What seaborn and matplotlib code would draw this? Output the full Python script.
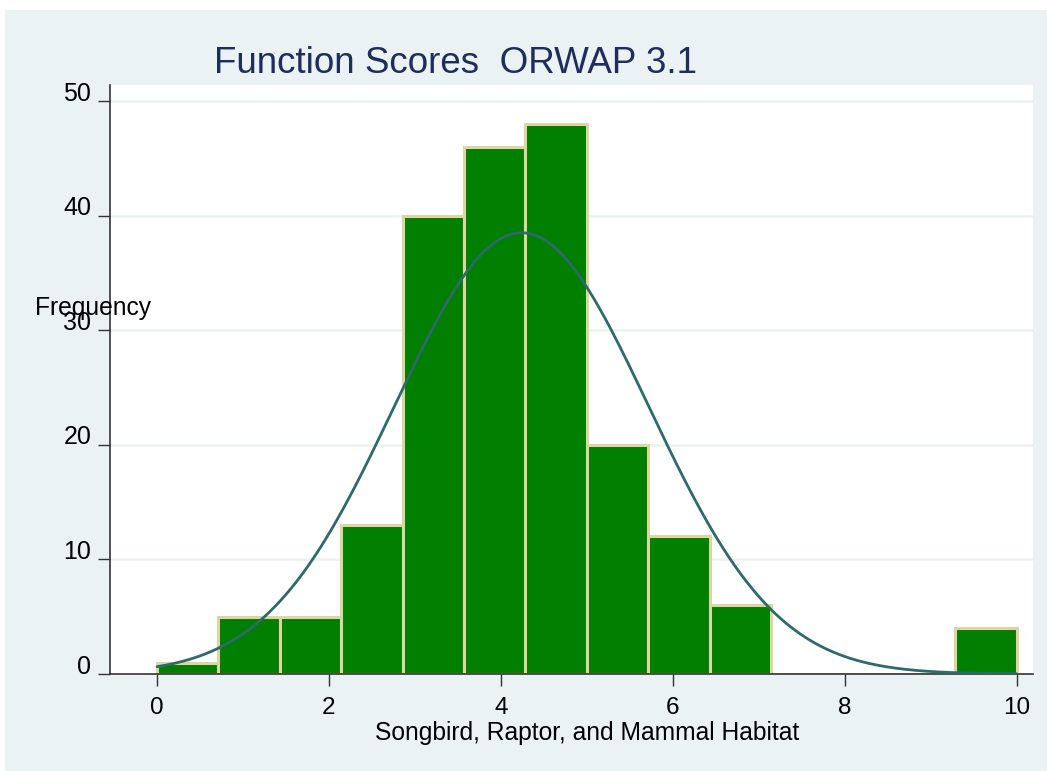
import numpy as np
import pandas as pd
import matplotlib
matplotlib.use("Agg")
import matplotlib.pyplot as plt
import matplotlib.transforms as mtransforms
from matplotlib.patches import Rectangle
import seaborn as sns

# histogram: 14 bins over 0..10, counts
bin_lo = 0.0
bin_hi = 10.0
n_bins = 14
bin_counts = [1, 5, 5, 13, 40, 46, 48, 20, 12, 6, 0, 0, 0, 4]

# fitted normal curve parameters
curve_mean = 4.24
curve_sd = 1.48

y_ticks = [0, 10, 20, 30, 40, 50]
x_ticks = [0, 2, 4, 6, 8, 10]

title = "Function Scores  ORWAP 3.1"
x_label = "Songbird, Raptor, and Mammal Habitat"
y_label = "Frequency"

bg = "#EAF2F3"
bar_green = "#007F00"
bar_edge = "#DDD5A3"
curve_col = "#2E6A6C"
title_col = "#1F2D5C"

sns.set_style("white")
plt.rcParams["font.family"] = ["Liberation Sans", "DejaVu Sans"]
plt.rcParams["text.color"] = "black"
plt.rcParams["xtick.labelcolor"] = "black"
plt.rcParams["ytick.labelcolor"] = "black"

width = (bin_hi - bin_lo) / n_bins
mids = bin_lo + width * (np.arange(n_bins) + 0.5)
df = pd.DataFrame({"score": mids, "count": bin_counts})

fig = plt.figure(figsize=(10.47, 7.71), dpi=100, facecolor="white")
fig.patches.append(Rectangle((5 / 1047, 0), 1, 1 - 10 / 771,
                             transform=fig.transFigure, facecolor=bg,
                             edgecolor="none", zorder=-10))
ax = fig.add_axes([110 / 1047, 97 / 771, 923 / 1047, 589 / 771])
ax.set_facecolor("white")

for v in y_ticks[1:]:
    ax.axhline(v, color=bg, lw=1.8, zorder=0)

sns.histplot(data=df, x="score", weights="count", bins=n_bins,
             binrange=(bin_lo, bin_hi), color=bar_green, alpha=1,
             edgecolor=bar_edge, linewidth=2.2, ax=ax, zorder=2)

# normal density scaled to frequency
xs = np.linspace(bin_lo, bin_hi, 300)
total = sum(bin_counts)
ys = total * width * np.exp(-0.5 * ((xs - curve_mean) / curve_sd) ** 2) / (curve_sd * np.sqrt(2 * np.pi))
sns.lineplot(x=xs, y=ys, color=curve_col, lw=2, ax=ax, zorder=3)

ax.set_xlim(-0.547, 10.19)
ax.set_ylim(0, 51.4)
ax.set_xticks(x_ticks)
ax.set_yticks(y_ticks)
ax.set_xticklabels([str(t) for t in x_ticks], fontsize=17.5, color="black")
ax.set_yticklabels([str(t) for t in y_ticks], fontsize=18, color="black")
ax.set_xlabel("")
ax.set_ylabel("")
ax.tick_params(axis="x", length=8.5, width=1, color="#333333", pad=8, direction="out", bottom=True)
ax.tick_params(axis="y", length=8.5, width=1, color="#333333", pad=5, direction="out", left=True)

up = mtransforms.ScaledTranslation(0, 10 / 100, fig.dpi_scale_trans)
for lab in ax.get_yticklabels():
    lab.set_transform(lab.get_transform() + up)

for s in ["top", "right"]:
    ax.spines[s].set_visible(False)
for s in ["left", "bottom"]:
    ax.spines[s].set_color("#333333")
    ax.spines[s].set_linewidth(1.2)

fig.text(455 / 1047, 1 - 73 / 771, title, fontsize=26.5, color=title_col,
         ha="center", va="baseline")
fig.text(587 / 1047, 1 - 740 / 771, x_label, fontsize=17.7, color="black",
         ha="center", va="baseline")
fig.text(35 / 1047, 1 - 315 / 771, y_label, fontsize=17.7, color="black",
         ha="left", va="baseline")

fig.savefig("out.png", dpi=100, facecolor=fig.get_facecolor())
